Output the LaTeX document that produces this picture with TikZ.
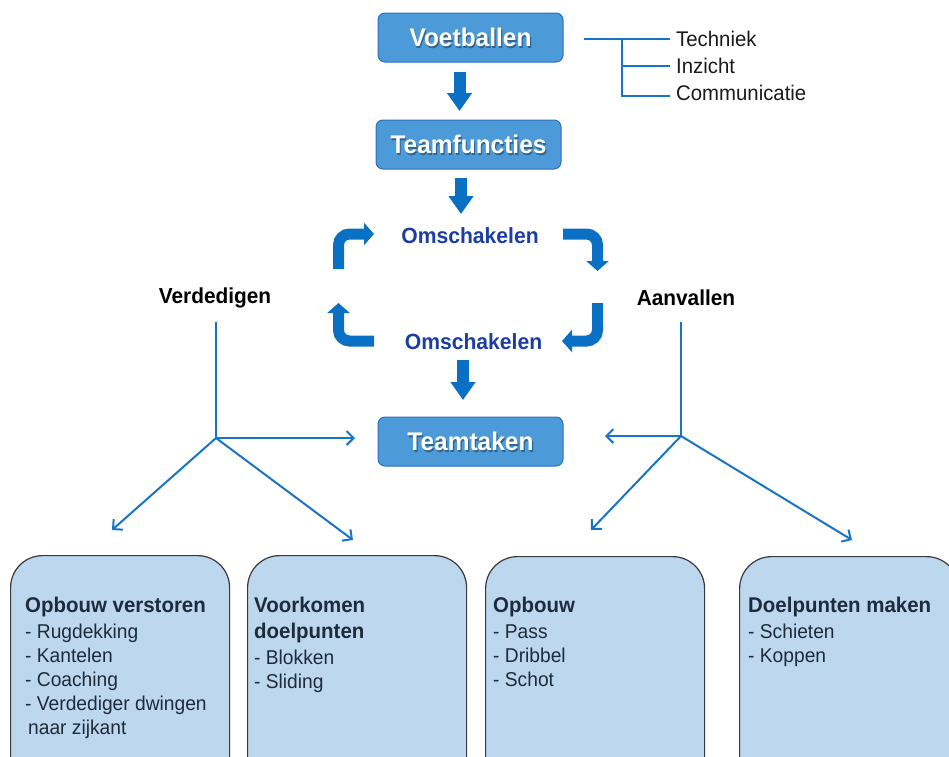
\documentclass[tikz,border=0pt]{standalone}
\usepackage{fontspec}
\setmainfont{Liberation Sans}[FakeStretch=0.96]
\usetikzlibrary{arrows.meta,calc}
\definecolor{boxblue}{HTML}{4C9AD8}
\definecolor{boxedge}{HTML}{2F6EBA}
\definecolor{arrblue}{HTML}{0A70C4}
\definecolor{lineblue}{HTML}{1874C8}
\definecolor{omblue}{HTML}{1C3DA3}
\definecolor{lightbox}{HTML}{BDD7EE}
\definecolor{boxline}{HTML}{3A3A3A}
\definecolor{boxtext}{HTML}{1A1A1A}
\definecolor{darktext}{HTML}{1E2B3A}
\begin{document}
\begin{tikzpicture}[x=1pt,y=-1pt,
  bluebox/.style={draw=boxedge, line width=1pt, fill=boxblue, rounded corners=7pt,
    minimum width=185pt, minimum height=49pt, inner sep=0pt},
  whitetext/.style={text=white, font=\fontsize{25.5}{28}\selectfont\bfseries, inner sep=0pt},
  shadowtext/.style={whitetext, text=black, opacity=0.35},
  bigarrow/.style={draw=arrblue, line width=12pt, -{Triangle[length=18pt,width=24pt]}},
  bentarrow/.style={draw=arrblue, line width=11pt, rounded corners=11pt, -{Triangle[length=10pt,width=22pt]}},
  thinline/.style={draw=lineblue, line width=2pt},
  thinarrow/.style={thinline, -{Straight Barb[length=7pt,width=14pt]}},
  omtext/.style={text=omblue, font=\fontsize{22}{24}\selectfont\bfseries, inner sep=0pt},
  sidetext/.style={text=black, font=\fontsize{21.7}{24}\selectfont\bfseries, inner sep=0pt},
  listtext/.style={text=boxtext, font=\fontsize{21.2}{24}\selectfont, inner sep=0pt, anchor=west},
  bbox/.style={draw=boxline, line width=1.2pt, fill=lightbox, rounded corners=32pt,
    minimum width=219pt, minimum height=240pt, inner sep=0pt, anchor=north west},
  btext/.style={text=darktext, font=\fontsize{20}{24}\selectfont, align=left, inner sep=0pt, anchor=north west},
]
\useasboundingbox (0,0) rectangle (949,756);
\clip (0,0) rectangle (949,756);

% blue boxes
\node[bluebox] (V) at (470.5,37.5) {};
\node[shadowtext] (Vs) at ($(V)+(1.2,1.5)$) {Voetballen};
\node[whitetext] (Vt) at (V) {Voetballen};

\node[bluebox] (TF) at (468.5,144.5) {};
\node[shadowtext] (TFs) at ($(TF)+(1.2,1.5)$) {Teamfuncties};
\node[whitetext] (TFt) at (TF) {Teamfuncties};

\node[bluebox] (TT) at (470.5,441.5) {};
\node[shadowtext] (TTs) at ($(TT)+(1.2,1.5)$) {Teamtaken};
\node[whitetext] (TTt) at (TT) {Teamtaken};

% Voetballen sub list
\node[listtext] (tech) at (676,39) {Techniek};
\node[listtext] (inz) at (676,66) {Inzicht};
\node[listtext] (comm) at (676,93) {Communicatie};
\coordinate (bj) at (622,38.5);
\draw[thinline] ($(V.east)+(20,1)$) -- (bj);
\draw[thinline] (bj) -- (622,96.5);
\draw[thinline] (bj) -- (670,38.5);
\draw[thinline] (622,66) -- (670,66);
\draw[thinline] (622,95.6) -- (670,95.6);

% Omschakelen texts
\node[omtext] (O1) at (470,236) {Omschakelen};
\node[omtext] (O2) at (473.5,342) {Omschakelen};

% straight thick arrows
\draw[bigarrow] (459.5,72) -- (459.5,111);
\draw[bigarrow] (461,178) -- (461,214);
\draw[bigarrow] (463,360) -- (463,400);

% bent arrows (cycle)
\draw[bentarrow] (338.5,269) |- (374,234);
\draw[bentarrow] (563,234) -| (597.5,271);
\draw[bentarrow] (597.5,303) |- (562,341);
\draw[bentarrow] (374,341) -| (338.5,303);

% side labels
\node[sidetext] (Vd) at (215,298) {Verdedigen};
\node[sidetext] (Av) at (686,298) {Aanvallen};

% left tree
\coordinate (ltop) at (216,322);
\coordinate (lj) at (216,438);
\draw[thinline] (ltop) -- (lj);
\draw[thinarrow] (lj) -- (355,438);
\draw[thinarrow] (lj) -- (112,530);
\draw[thinarrow] (lj) -- (353,540);

% right tree
\coordinate (rtop) at (681,322);
\coordinate (rj) at (681,436);
\draw[thinline] (rtop) -- (rj);
\draw[thinarrow] (rj) -- (605,436);
\draw[thinarrow] (rj) -- (591,530);
\draw[thinarrow] (rj) -- (852,540);

% bottom boxes
\node[bbox] (B1) at (10,555) {};
\node[bbox] (B2) at (247,555) {};
\node[bbox] (B3) at (485,556) {};
\node[bbox] (B4) at (739,556) {};

\node[btext] (B1t) at (25,597) {{\fontsize{21.3}{24}\selectfont\bfseries Opbouw verstoren}\\[2pt]- Rugdekking\\- Kantelen\\- Coaching\\- Verdediger dwingen\\\hspace{3pt}naar zijkant};
\node[btext] (B2t) at (254,597) {{\fontsize{21.3}{24}\selectfont\bfseries Voorkomen}\\[2pt]{\fontsize{21.3}{24}\selectfont\bfseries doelpunten}\\[2pt]- Blokken\\- Sliding};
\node[btext] (B3t) at (493,597) {{\fontsize{21.3}{24}\selectfont\bfseries Opbouw}\\[2pt]- Pass\\- Dribbel\\- Schot};
\node[btext] (B4t) at (748,597) {{\fontsize{21.3}{24}\selectfont\bfseries Doelpunten maken}\\[2pt]- Schieten\\- Koppen};
\end{tikzpicture}
\end{document}
